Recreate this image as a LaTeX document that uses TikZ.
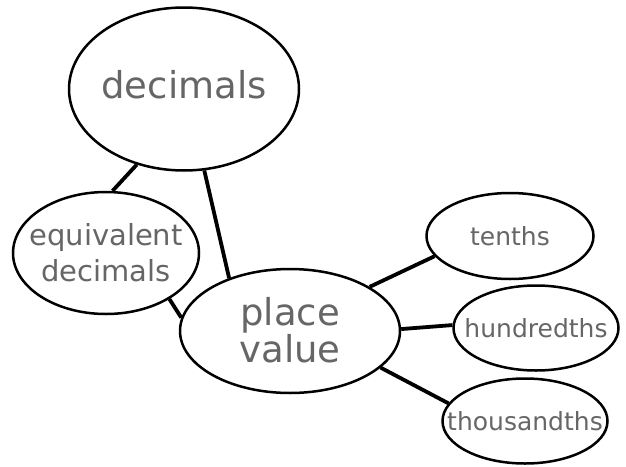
\documentclass[tikz,border=0pt]{standalone}
\usepackage{fontspec}
\setmainfont{DejaVu Sans}
\usetikzlibrary{shapes.geometric}
\definecolor{txtgray}{HTML}{666666}
\begin{document}
\begin{tikzpicture}[x=1pt,y=-1pt,
  bubble/.style={ellipse,draw=black,line width=2.5pt,fill=white,inner sep=0pt},
  word/.style={text=txtgray,align=center,inner sep=0pt},
  link/.style={draw=black,line width=3.8pt}]
\useasboundingbox[fill=white] (0,0) rectangle (626,466);
\node[bubble,minimum width=230,minimum height=163,
  label={[word,yshift=4,font=\fontsize{37}{37}\selectfont]center:decimals}] (dec) at (184,89) {};
\node[bubble,minimum width=186,minimum height=122,
  label={[word,font=\fontsize{29}{36}\selectfont]center:equivalent\\decimals}] (eq) at (106,253) {};
\node[bubble,minimum width=220,minimum height=124,
  label={[word,yshift=1,font=\fontsize{37}{33}\selectfont]center:place\\value}] (pv) at (290,331) {};
\node[bubble,minimum width=167,minimum height=86,
  label={[word,font=\fontsize{25}{25}\selectfont]center:tenths}] (ten) at (510,236) {};
\node[bubble,minimum width=165,minimum height=85,
  label={[word,font=\fontsize{25}{25}\selectfont]center:hundredths}] (hun) at (536,328) {};
\node[bubble,minimum width=165,minimum height=85,
  label={[word,font=\fontsize{25}{25}\selectfont]center:thousandths}] (tho) at (525,421) {};
\path[link] (dec.238) -- (eq.84);
\path[link] (dec.-76) -- (pv.139);
\path[link] (eq.-36) -- (pv.173);
\path[link] (pv.29) -- (ten.195);
\path[link] (pv.1) -- (hun.178);
\path[link] (pv.-22) -- (tho.167);
\end{tikzpicture}
\end{document}
